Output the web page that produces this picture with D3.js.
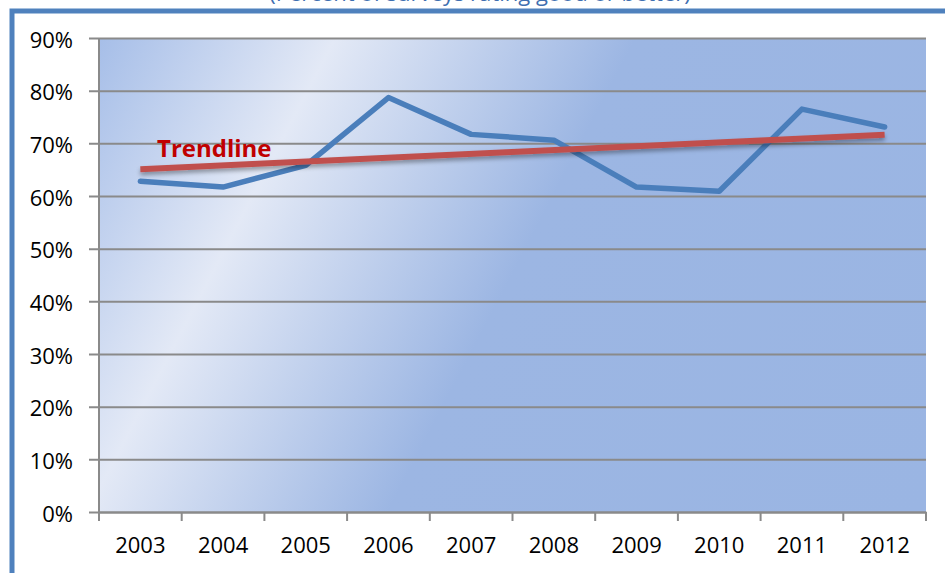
<!DOCTYPE html>
<html>
<head>
<meta charset="utf-8">
<script src="https://cdn.jsdelivr.net/npm/d3@7"></script>
<style>
  body { margin: 0; background: #fff; }
  svg { display: block; }
  .tick text { font-family: "Open Sans", sans-serif; font-size: 22px; fill: #000; }
</style>
</head>
<body>
<div class="chart"></div>
<script>
// values
const years = ["2003", "2004", "2005", "2006", "2007", "2008", "2009", "2010", "2011", "2012"]
const values = [0.628, 0.617, 0.658, 0.787, 0.717, 0.706, 0.617, 0.609, 0.765, 0.731]
const yTicks = [0, 0.1, 0.2, 0.3, 0.4, 0.5, 0.6, 0.7, 0.8, 0.9]

const width = 945
const height = 573
const plot = { left: 99, right: 926, top: 38, bottom: 512 }

const svg = d3.select(".chart").append("svg")
    .attr("width", width)
    .attr("height", height)

const defs = svg.append("defs")

// diagonal background with the light band
const grad = defs.append("linearGradient")
    .attr("id", "bg")
    .attr("gradientUnits", "userSpaceOnUse")
    .attr("x1", 99).attr("y1", 38)
    .attr("x2", 942).attr("y2", 479)
grad.append("stop").attr("offset", 0).attr("stop-color", "#a6bee8")
grad.append("stop").attr("offset", 0.22).attr("stop-color", "#e3e9f6")
grad.append("stop").attr("offset", 0.5).attr("stop-color", "#9cb6e3")
grad.append("stop").attr("offset", 1).attr("stop-color", "#9ab5e3")

const shadow = defs.append("filter")
    .attr("id", "shadow")
    .attr("x", "-5%").attr("y", "-50%")
    .attr("width", "110%").attr("height", "300%")
shadow.append("feDropShadow")
    .attr("dx", 0).attr("dy", 3)
    .attr("stdDeviation", 2)
    .attr("flood-color", "#000")
    .attr("flood-opacity", 0.35)

// chart title, cut off by the top of the picture
svg.append("text")
    .attr("x", 480)
    .attr("y", 1)
    .attr("text-anchor", "middle")
    .attr("font-family", "Open Sans, sans-serif")
    .attr("font-size", 22)
    .attr("fill", "#3f6fb0")
    .text("(Percent of surveys rating good or better)")

// outer frame
svg.append("rect")
    .attr("x", 12).attr("y", 11)
    .attr("width", 980).attr("height", 620)
    .attr("fill", "none")
    .attr("stroke", "#4f81bd")
    .attr("stroke-width", 5)

const x = d3.scaleBand()
    .domain(years)
    .range([plot.left, plot.right])
    .padding(0)

const y = d3.scaleLinear()
    .domain([0, 0.9])
    .range([plot.bottom, plot.top])

svg.append("rect")
    .attr("x", plot.left)
    .attr("y", plot.top)
    .attr("width", plot.right - plot.left)
    .attr("height", plot.bottom - plot.top)
    .attr("fill", "url(#bg)")

// y axis with gridlines
const yAxis = svg.append("g")
    .attr("transform", "translate(" + plot.left + ",0)")
    .call(d3.axisLeft(y)
        .tickValues(yTicks)
        .tickSize(-(plot.right - plot.left))
        .tickPadding(26)
        .tickFormat(d3.format(".0%")))
yAxis.select(".domain").remove()
yAxis.selectAll(".tick line")
    .attr("x1", -10)
    .attr("stroke", "#8a8a8a")
    .attr("stroke-width", 2)
yAxis.selectAll(".tick text").attr("dy", "0.42em")

svg.append("line")
    .attr("x1", plot.left).attr("x2", plot.left)
    .attr("y1", plot.top).attr("y2", plot.bottom)
    .attr("stroke", "#8a8a8a")
    .attr("stroke-width", 2)

// x axis: ticks on the band edges
const xAxis = svg.append("g")
    .attr("transform", "translate(0," + plot.bottom + ")")
    .call(d3.axisBottom(x).tickSize(0).tickPadding(25))
xAxis.select(".domain")
    .attr("stroke", "#8a8a8a")
    .attr("stroke-width", 2)
xAxis.selectAll(".tick text").attr("dy", "0.71em")

const edges = years.map(d => x(d)).concat([plot.right])
svg.append("g").selectAll("line")
    .data(edges)
    .enter()
    .append("line")
    .attr("x1", d => d).attr("x2", d => d)
    .attr("y1", plot.bottom).attr("y2", plot.bottom + 9)
    .attr("stroke", "#8a8a8a")
    .attr("stroke-width", 2)

const cx = d => x(d) + x.bandwidth() / 2

// data line
const line = d3.line()
    .x((d, i) => cx(years[i]))
    .y(d => y(d))

svg.append("path")
    .datum(values)
    .attr("d", line)
    .attr("fill", "none")
    .attr("stroke", "#4a7ebb")
    .attr("stroke-width", 5.5)
    .attr("stroke-linejoin", "round")
    .attr("stroke-linecap", "round")

// linear least-squares trendline
const xs = values.map((d, i) => i)
const mx = d3.mean(xs)
const my = d3.mean(values)
const slope = d3.sum(xs, (v, i) => (v - mx) * (values[i] - my)) / d3.sum(xs, v => (v - mx) * (v - mx))
const icpt = my - slope * mx
const trend = [0, years.length - 1].map(i => [cx(years[i]), y(icpt + slope * i)])

svg.append("path")
    .datum(trend)
    .attr("d", d3.line())
    .attr("fill", "none")
    .attr("stroke", "#c0504d")
    .attr("stroke-width", 6)
    .attr("filter", "url(#shadow)")

svg.append("text")
    .attr("x", 157)
    .attr("y", 157)
    .attr("font-family", "Open Sans, sans-serif")
    .attr("font-weight", "bold")
    .attr("font-size", 24)
    .attr("fill", "#c00000")
    .text("Trendline")
</script>
</body>
</html>
